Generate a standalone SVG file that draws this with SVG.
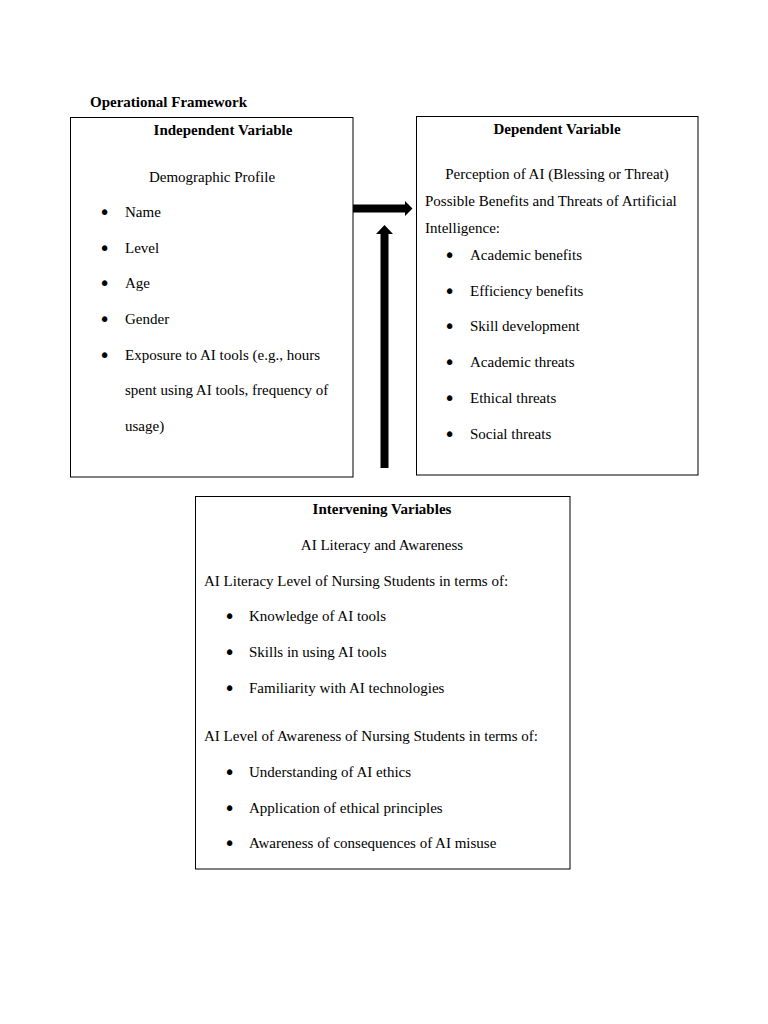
<svg xmlns="http://www.w3.org/2000/svg" width="768" height="1024" viewBox="0 0 768 1024">
<style>
text{font-family:"Liberation Serif","Times New Roman",serif;font-size:15px;fill:#000}
.b{font-weight:bold}
.m{text-anchor:middle}
.u{font-family:"DejaVu Sans",sans-serif;font-size:19px}
.box{fill:#fff;stroke:#000;stroke-width:1}
</style>
<rect width="768" height="1024" fill="#fff"/>
<text x="90" y="107" class="b">Operational Framework</text>
<g id="independent">
<rect class="box" x="70.5" y="117.5" width="282.5" height="359.5"/>
<text x="223" y="135" class="b m">Independent Variable</text>
<text x="212" y="182" class="m">Demographic Profile</text>
<text x="99" y="219" class="u">•</text><text x="125" y="217">Name</text>
<text x="99" y="255" class="u">•</text><text x="125" y="253">Level</text>
<text x="99" y="290" class="u">•</text><text x="125" y="288">Age</text>
<text x="99" y="326" class="u">•</text><text x="125" y="324">Gender</text>
<text x="99" y="362" class="u">•</text><text x="125" y="360">Exposure to AI tools (e.g., hours</text>
<text x="125" y="395">spent using AI tools, frequency of</text>
<text x="125" y="431">usage)</text>
</g>
<g id="dependent">
<rect class="box" x="416.5" y="116.5" width="281.5" height="358.5"/>
<text x="557" y="134" class="b m">Dependent Variable</text>
<text x="557" y="179" class="m">Perception of AI (Blessing or Threat)</text>
<text x="425" y="206">Possible Benefits and Threats of Artificial</text>
<text x="425" y="233">Intelligence:</text>
<text x="444" y="262" class="u">•</text><text x="470" y="260">Academic benefits</text>
<text x="444" y="298" class="u">•</text><text x="470" y="296">Efficiency benefits</text>
<text x="444" y="333" class="u">•</text><text x="470" y="331">Skill development</text>
<text x="444" y="369" class="u">•</text><text x="470" y="367">Academic threats</text>
<text x="444" y="405" class="u">•</text><text x="470" y="403">Ethical threats</text>
<text x="444" y="441" class="u">•</text><text x="470" y="439">Social threats</text>
</g>
<g id="intervening">
<rect class="box" x="195.5" y="496.5" width="374.5" height="372.5"/>
<text x="382" y="514" class="b m">Intervening Variables</text>
<text x="382" y="550" class="m">AI Literacy and Awareness</text>
<text x="204" y="586">AI Literacy Level of Nursing Students in terms of:</text>
<text x="224" y="623" class="u">•</text><text x="249" y="621">Knowledge of AI tools</text>
<text x="224" y="659" class="u">•</text><text x="249" y="657">Skills in using AI tools</text>
<text x="224" y="695" class="u">•</text><text x="249" y="693">Familiarity with AI technologies</text>
<text x="204" y="741">AI Level of Awareness of Nursing Students in terms of:</text>
<text x="224" y="779" class="u">•</text><text x="249" y="777">Understanding of AI ethics</text>
<text x="224" y="815" class="u">•</text><text x="249" y="813">Application of ethical principles</text>
<text x="224" y="850" class="u">•</text><text x="249" y="848">Awareness of consequences of AI misuse</text>
</g>
<g id="connectors" fill="#000">
<path d="M353 204.5 H405 V201 L412.5 208.5 L405 216 V212.5 H353 Z"/>
<path d="M380.5 468 V234 H376 L384.5 225 L393 234 H388.5 V468 Z"/>
</g>
</svg>
